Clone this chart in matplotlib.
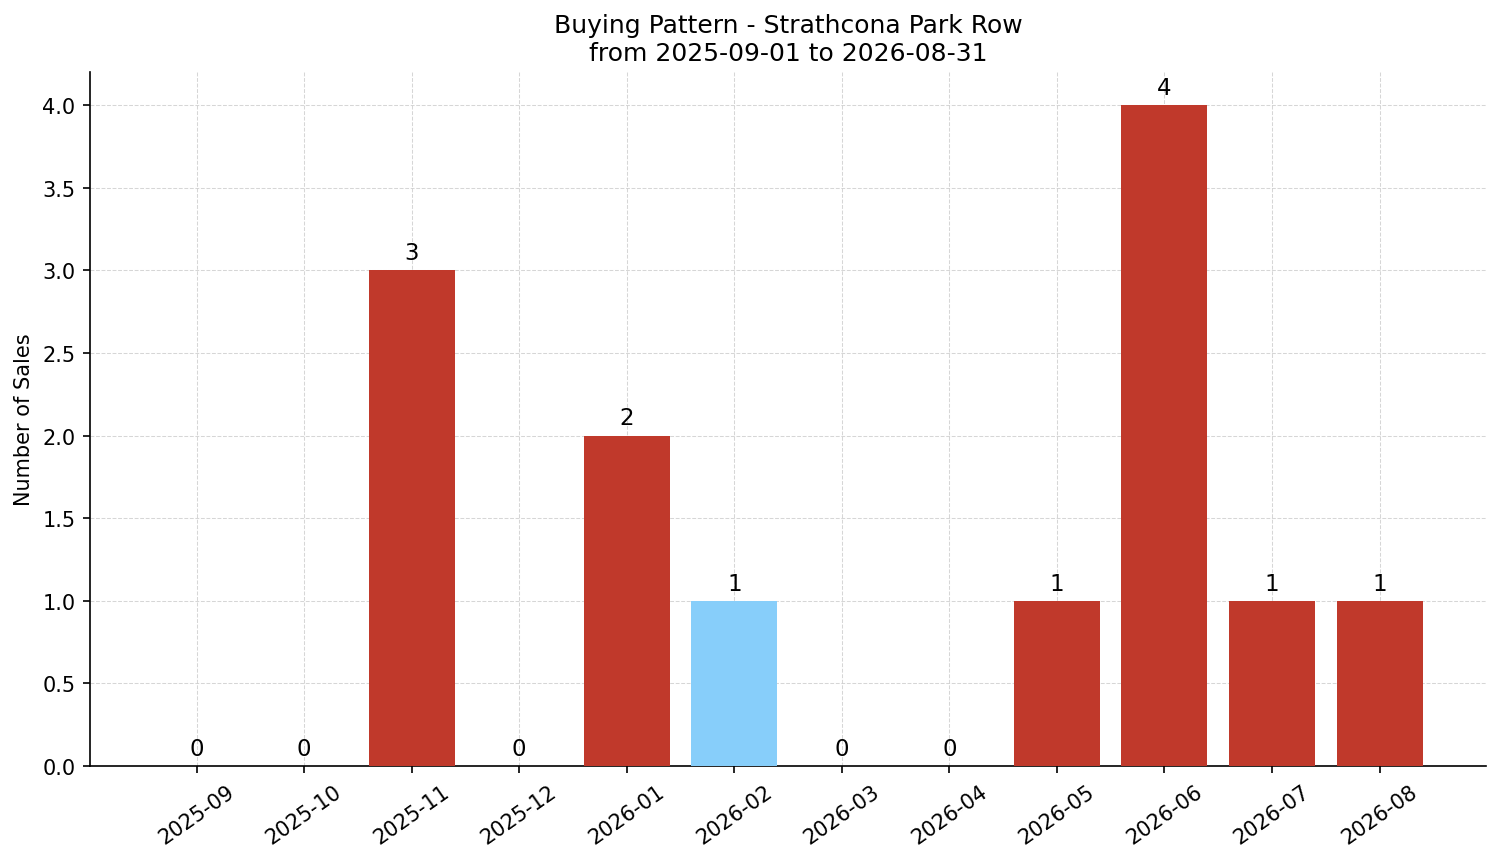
import matplotlib
matplotlib.use("Agg")
import matplotlib.pyplot as plt

# monthly sales counts
months = ["2025-09", "2025-10", "2025-11", "2025-12", "2026-01", "2026-02",
          "2026-03", "2026-04", "2026-05", "2026-06", "2026-07", "2026-08"]
sales = [0, 0, 3, 0, 2, 1, 0, 0, 1, 4, 1, 1]
highlight = "2026-02"

colors = ["#87cefa" if m == highlight else "#c0392b" for m in months]

fig, ax = plt.subplots(figsize=(10.007, 5.753), dpi=150)
bars = ax.bar(months, sales, color=colors, width=0.8, zorder=3)
ax.bar_label(bars, labels=[str(v) for v in sales], padding=3, fontsize=11)

ax.set_title("Buying Pattern - Strathcona Park Row\nfrom 2025-09-01 to 2026-08-31", fontsize=12)
ax.set_ylabel("Number of Sales")
ax.set_ylim(0, 4.2)
ax.grid(True, linestyle="--", linewidth=0.5, color="#cccccc", alpha=0.8, zorder=0)
ax.spines["top"].set_visible(False)
ax.spines["right"].set_visible(False)
plt.setp(ax.get_xticklabels(), rotation=35)

fig.subplots_adjust(left=0.060, right=0.990, top=0.9154, bottom=0.1112)
plt.savefig("out.png")
